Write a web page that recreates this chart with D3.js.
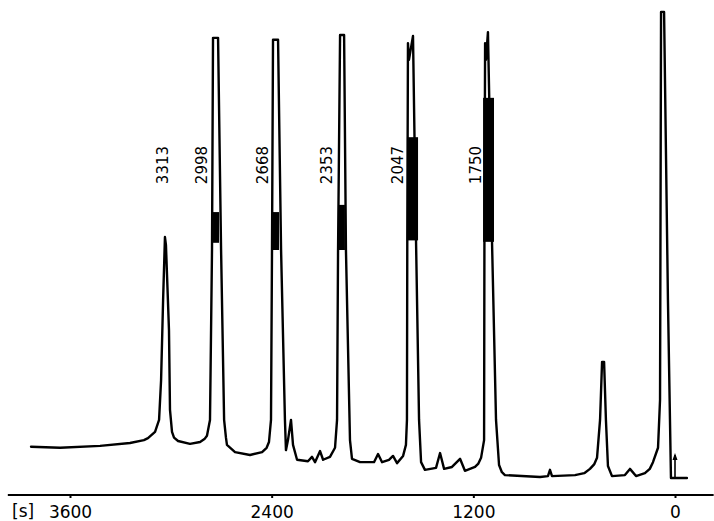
<!DOCTYPE html>
<html>
<head>
<meta charset="utf-8">
<script src="https://cdn.jsdelivr.net/npm/d3@7"></script>
<style>
  html, body { margin: 0; padding: 0; background: #fff; }
  svg { display: block; }
</style>
</head>
<body>
<svg id="chart"></svg>
<script>
// Chromatogram trace, time axis runs from 3600 s (left) down to 0 s (right).

const width = 714;
const height = 521;

// recorder trace: retention time [s] and detector signal (arbitrary units)
const traceTime = [
  3832, 3659, 3421, 3243, 3160, 3136, 3094, 3070, 3058, 3046, 3035, 3029, 3011, 3005, 2993,
  2981, 2957, 2886, 2826, 2800, 2785, 2767, 2755, 2749, 2719, 2701, 2683, 2672, 2666, 2618,
  2529, 2457, 2430, 2416, 2404, 2398, 2392, 2362, 2344, 2321, 2315, 2303, 2285, 2273, 2249,
  2184, 2160, 2142, 2112, 2094, 2053, 2023, 2011, 2005, 1993, 1969, 1958, 1934, 1922, 1874,
  1791, 1767, 1743, 1702, 1678, 1654, 1618, 1601, 1595, 1593, 1589, 1583, 1559, 1541, 1523,
  1511, 1488, 1422, 1398, 1374, 1327, 1279, 1250, 1190, 1170, 1154, 1136, 1134, 1130, 1125,
  1113, 1089, 1065, 1047, 1030, 1012, 803, 756, 744, 732, 595, 540, 506, 480, 464,
  446, 434, 422, 411, 399, 375, 298, 268, 232, 179, 150, 131, 101, 89, 83,
  65, 42, 24, -71,
];
const traceSignal = [
  9.0, 8.8, 9.2, 9.8, 10.4, 10.8, 12.1, 14.6, 22.9, 39.6, 52.7, 51.0, 33.3, 16.7, 12.1,
  10.9, 10.2, 9.6, 10.0, 10.6, 11.3, 14.6, 50.0, 94.2, 94.2, 50.0, 14.6, 10.9, 9.4, 7.9,
  7.3, 7.9, 8.8, 10.0, 14.6, 50.0, 93.8, 93.8, 50.0, 14.6, 8.3, 10.4, 14.6, 9.4, 6.3,
  6.0, 6.9, 5.8, 8.1, 6.3, 6.9, 8.8, 14.6, 50.0, 94.8, 94.8, 50.0, 10.4, 6.5, 5.8,
  5.8, 7.5, 5.8, 6.3, 7.1, 5.6, 7.1, 9.4, 14.6, 52.0, 93.1, 89.6, 94.6, 52.0, 14.6,
  5.8, 4.2, 4.6, 7.7, 4.4, 4.8, 6.5, 4.0, 4.8, 5.5, 6.7, 10.4, 52.0, 93.1, 89.6,
  95.4, 52.0, 14.6, 5.2, 3.7, 3.1, 2.7, 2.9, 4.2, 2.9, 3.1, 3.5, 4.4, 5.4, 6.7,
  14.6, 26.7, 26.7, 14.6, 5.0, 2.9, 3.1, 4.4, 2.9, 3.5, 4.4, 5.8, 8.8, 18.8, 99.6,
  99.6, 39.6, 2.5, 2.5,
];

// over-driven (scribbled) parts of the saturated peaks
const bandTimeStart = [2749, 2398, 2005, 1595, 1142];
const bandTimeEnd = [2713, 2356, 1964, 1529, 1077];
const bandLow = [51.5, 50.0, 50.0, 52.0, 51.7];
const bandHigh = [57.9, 57.9, 59.4, 73.5, 81.7];

// peak annotations
const peakLabels = ["3313", "2998", "2668", "2353", "2047", "1750"];
const labelTimes = [3046, 2814, 2451, 2071, 1648, 1184];
const labelSignal = 67.7;

// time axis
const tickValues = [3600, 2400, 1200, 0];
const axisExtent = [3970, -230];
const axisUnit = "[s]";

// injection marker
const injectTime = 0;
const injectSignal = [2.5, 7.3];

const svg = d3.select("#chart").attr("width", width).attr("height", height);

const xScale = d3.scaleLinear().domain([3600, 0]).range([70, 675]);
const yScale = d3.scaleLinear().domain([0, 100]).range([490, 10]);

const points = traceTime.map((t, i) => [t, traceSignal[i]]);

const line = d3
  .line()
  .x((d) => xScale(d[0]))
  .y((d) => yScale(d[1]));

// filled over-drive bands
svg
  .selectAll(".band")
  .data(bandTimeStart)
  .enter()
  .append("rect")
  .attr("class", "band")
  .attr("x", (d) => xScale(d))
  .attr("width", (d, i) => xScale(bandTimeEnd[i]) - xScale(d))
  .attr("y", (d, i) => yScale(bandHigh[i]))
  .attr("height", (d, i) => yScale(bandLow[i]) - yScale(bandHigh[i]))
  .attr("fill", "#000");

svg
  .append("path")
  .datum(points)
  .attr("d", line)
  .attr("fill", "none")
  .attr("stroke", "#000")
  .attr("stroke-width", 2.4)
  .attr("stroke-linejoin", "round")
  .attr("stroke-linecap", "round");

// injection arrow
const ax = xScale(injectTime);
svg
  .append("line")
  .attr("x1", ax)
  .attr("x2", ax)
  .attr("y1", yScale(injectSignal[0]))
  .attr("y2", yScale(injectSignal[1]))
  .attr("stroke", "#000")
  .attr("stroke-width", 1.6);
svg
  .append("path")
  .attr(
    "d",
    `M${ax - 2.5},${yScale(injectSignal[1]) + 5} L${ax},${yScale(injectSignal[1]) - 2} L${ax + 2.5},${yScale(injectSignal[1]) + 5} Z`
  )
  .attr("fill", "#000");

// peak labels (rotated)
svg
  .selectAll(".peak-label")
  .data(peakLabels)
  .enter()
  .append("text")
  .attr("class", "peak-label")
  .attr("transform", (d, i) => `translate(${xScale(labelTimes[i])},${yScale(labelSignal)}) rotate(-90)`)
  .attr("text-anchor", "middle")
  .attr("dominant-baseline", "central")
  .style("font-family", "DejaVu Sans, sans-serif")
  .style("font-size", "15px")
  .text((d) => d);

// x axis
const axisY = 495;
svg
  .append("line")
  .attr("x1", xScale(axisExtent[0]))
  .attr("x2", xScale(axisExtent[1]))
  .attr("y1", axisY)
  .attr("y2", axisY)
  .attr("stroke", "#000")
  .attr("stroke-width", 1.8);

const xAxis = d3.axisBottom(xScale).tickValues(tickValues).tickSize(3).tickPadding(8).tickFormat(d3.format("d"));

const gx = svg
  .append("g")
  .attr("id", "x-axis")
  .attr("transform", "translate(0," + axisY + ")")
  .call(xAxis);

gx.select(".domain").remove();
gx.selectAll(".tick line").attr("stroke-width", 2);
gx.selectAll(".tick text")
  .style("font-family", "DejaVu Sans, sans-serif")
  .style("font-size", "17px")
  .attr("fill", "#000");

svg
  .append("text")
  .attr("x", 12)
  .attr("y", 517)
  .style("font-family", "DejaVu Sans, sans-serif")
  .style("font-size", "17px")
  .text(axisUnit);
</script>
</body>
</html>
